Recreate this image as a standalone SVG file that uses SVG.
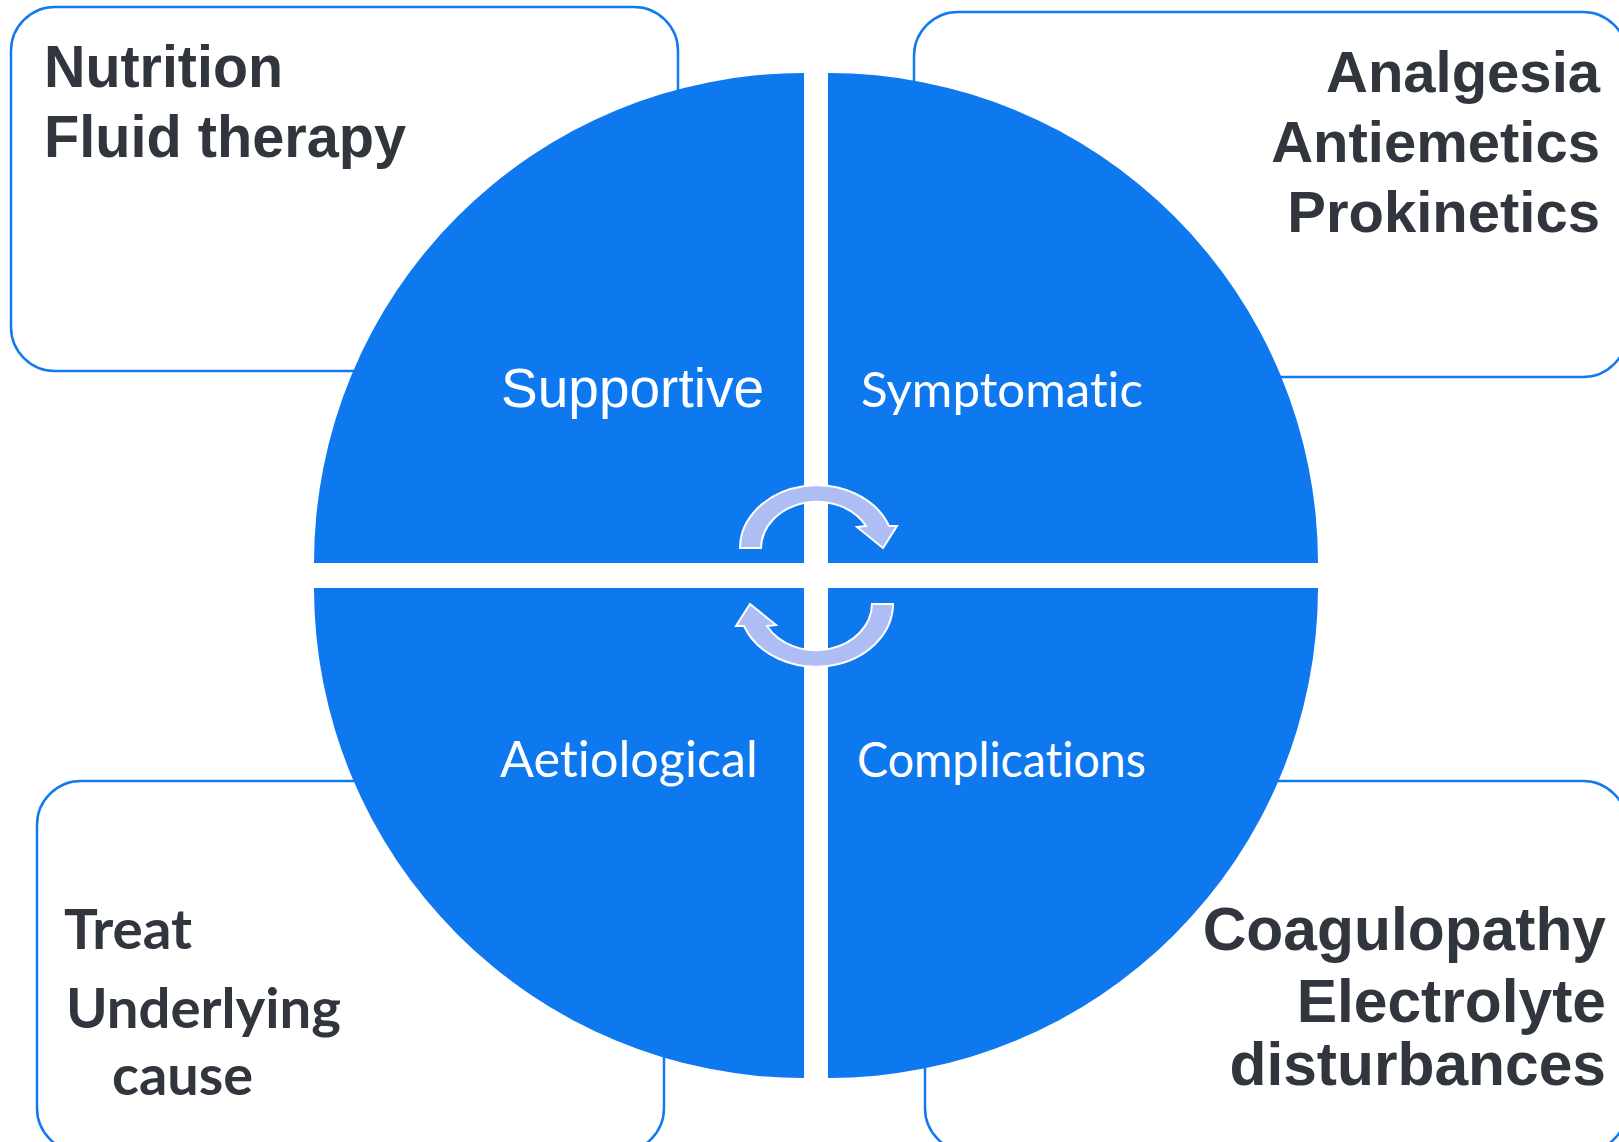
<svg xmlns="http://www.w3.org/2000/svg" xmlns:xlink="http://www.w3.org/1999/xlink" width="1619" height="1142" viewBox="0 0 1619 1142">
  <style>
    .box { fill: #ffffff; stroke: #1479ef; stroke-width: 2.5; }
    .quad { fill: #0e78ef; }
    .side { font-family: "Liberation Sans", Arial, sans-serif; font-weight: bold; fill: #31353d; }
    .cause { font-family: Lato, "Noto Sans", sans-serif; font-weight: bold; fill: #31353d; font-size: 55px; font-variant-ligatures: none; font-feature-settings: "liga" 0; }
    .lbl { font-family: Lato, "Noto Sans", sans-serif; fill: #ffffff; font-variant-ligatures: none; font-feature-settings: "liga" 0; }
    .lbl-sans { font-family: "Liberation Sans", Arial, sans-serif; fill: #ffffff; }
    .cycle { fill: #aebef4; stroke: #ffffff; stroke-width: 2; stroke-linejoin: miter; }
  </style>
  <defs>
    <!-- curved cycle arrow: tail on the left, head on the right -->
    <path id="cycleArrow" d="M 740,548 A 77 63 0 0 1 889,526 L 897,526 L 883,548 L 857,527 L 866,526 A 56 47 0 0 0 761,548 Z"/>
  </defs>

  <rect width="1619" height="1142" fill="#ffffff"/>

  <!-- corner panels -->
  <g id="panel-supportive">
    <rect class="box" x="11" y="7" width="667" height="364" rx="44" ry="44"/>
    <text class="side" font-size="59" x="44" y="87" textLength="239" lengthAdjust="spacingAndGlyphs">Nutrition</text>
    <text class="side" font-size="59" x="44" y="157" textLength="362" lengthAdjust="spacingAndGlyphs">Fluid therapy</text>
  </g>
  <g id="panel-symptomatic">
    <rect class="box" x="914" y="12" width="713" height="365" rx="44" ry="44"/>
    <text class="side" font-size="58" x="1600" y="92" text-anchor="end">Analgesia</text>
    <text class="side" font-size="58" x="1600" y="162" text-anchor="end">Antiemetics</text>
    <text class="side" font-size="58" x="1600" y="232" text-anchor="end">Prokinetics</text>
  </g>
  <g id="panel-aetiological">
    <rect class="box" x="37" y="781" width="627" height="371" rx="44" ry="44"/>
    <text class="cause" x="64" y="949" textLength="128" lengthAdjust="spacingAndGlyphs">Treat</text>
    <text class="cause" x="66" y="1028" textLength="275" lengthAdjust="spacingAndGlyphs">Underlying</text>
    <text class="cause" x="112" y="1095" textLength="141" lengthAdjust="spacingAndGlyphs">cause</text>
  </g>
  <g id="panel-complications">
    <rect class="box" x="925" y="781" width="702" height="371" rx="44" ry="44"/>
    <text class="side" font-size="60.5" x="1606" y="950" text-anchor="end">Coagulopathy</text>
    <text class="side" font-size="60.5" x="1606" y="1022" text-anchor="end">Electrolyte</text>
    <text class="side" font-size="60.5" x="1606" y="1085" text-anchor="end">disturbances</text>
  </g>

  <!-- central quadrants -->
  <g id="quad-supportive">
    <path class="quad" d="M 804,563 L 314,563 A 490 490 0 0 1 804,73 Z"/>
    <text class="lbl-sans" x="501" y="407" font-size="55" textLength="263" lengthAdjust="spacingAndGlyphs">Supportive</text>
  </g>
  <g id="quad-symptomatic">
    <path class="quad" d="M 828,563 L 828,73 A 490 490 0 0 1 1318,563 Z"/>
    <text class="lbl" x="861" y="407" font-size="49" textLength="282" lengthAdjust="spacingAndGlyphs">Symptomatic</text>
  </g>
  <g id="quad-complications">
    <path class="quad" d="M 828,588 L 1318,588 A 490 490 0 0 1 828,1078 Z"/>
    <text class="lbl" x="857" y="777" font-size="48" textLength="289" lengthAdjust="spacingAndGlyphs">Complications</text>
  </g>
  <g id="quad-aetiological">
    <path class="quad" d="M 804,588 L 804,1078 A 490 490 0 0 1 314,588 Z"/>
    <text class="lbl" x="500" y="777" font-size="50" textLength="258" lengthAdjust="spacingAndGlyphs">Aetiological</text>
  </g>

  <!-- cycle arrows -->
  <g id="connectors">
    <use class="cycle" xlink:href="#cycleArrow" href="#cycleArrow"/>
    <use class="cycle" xlink:href="#cycleArrow" href="#cycleArrow" transform="rotate(180 816.5 576)"/>
  </g>
</svg>
